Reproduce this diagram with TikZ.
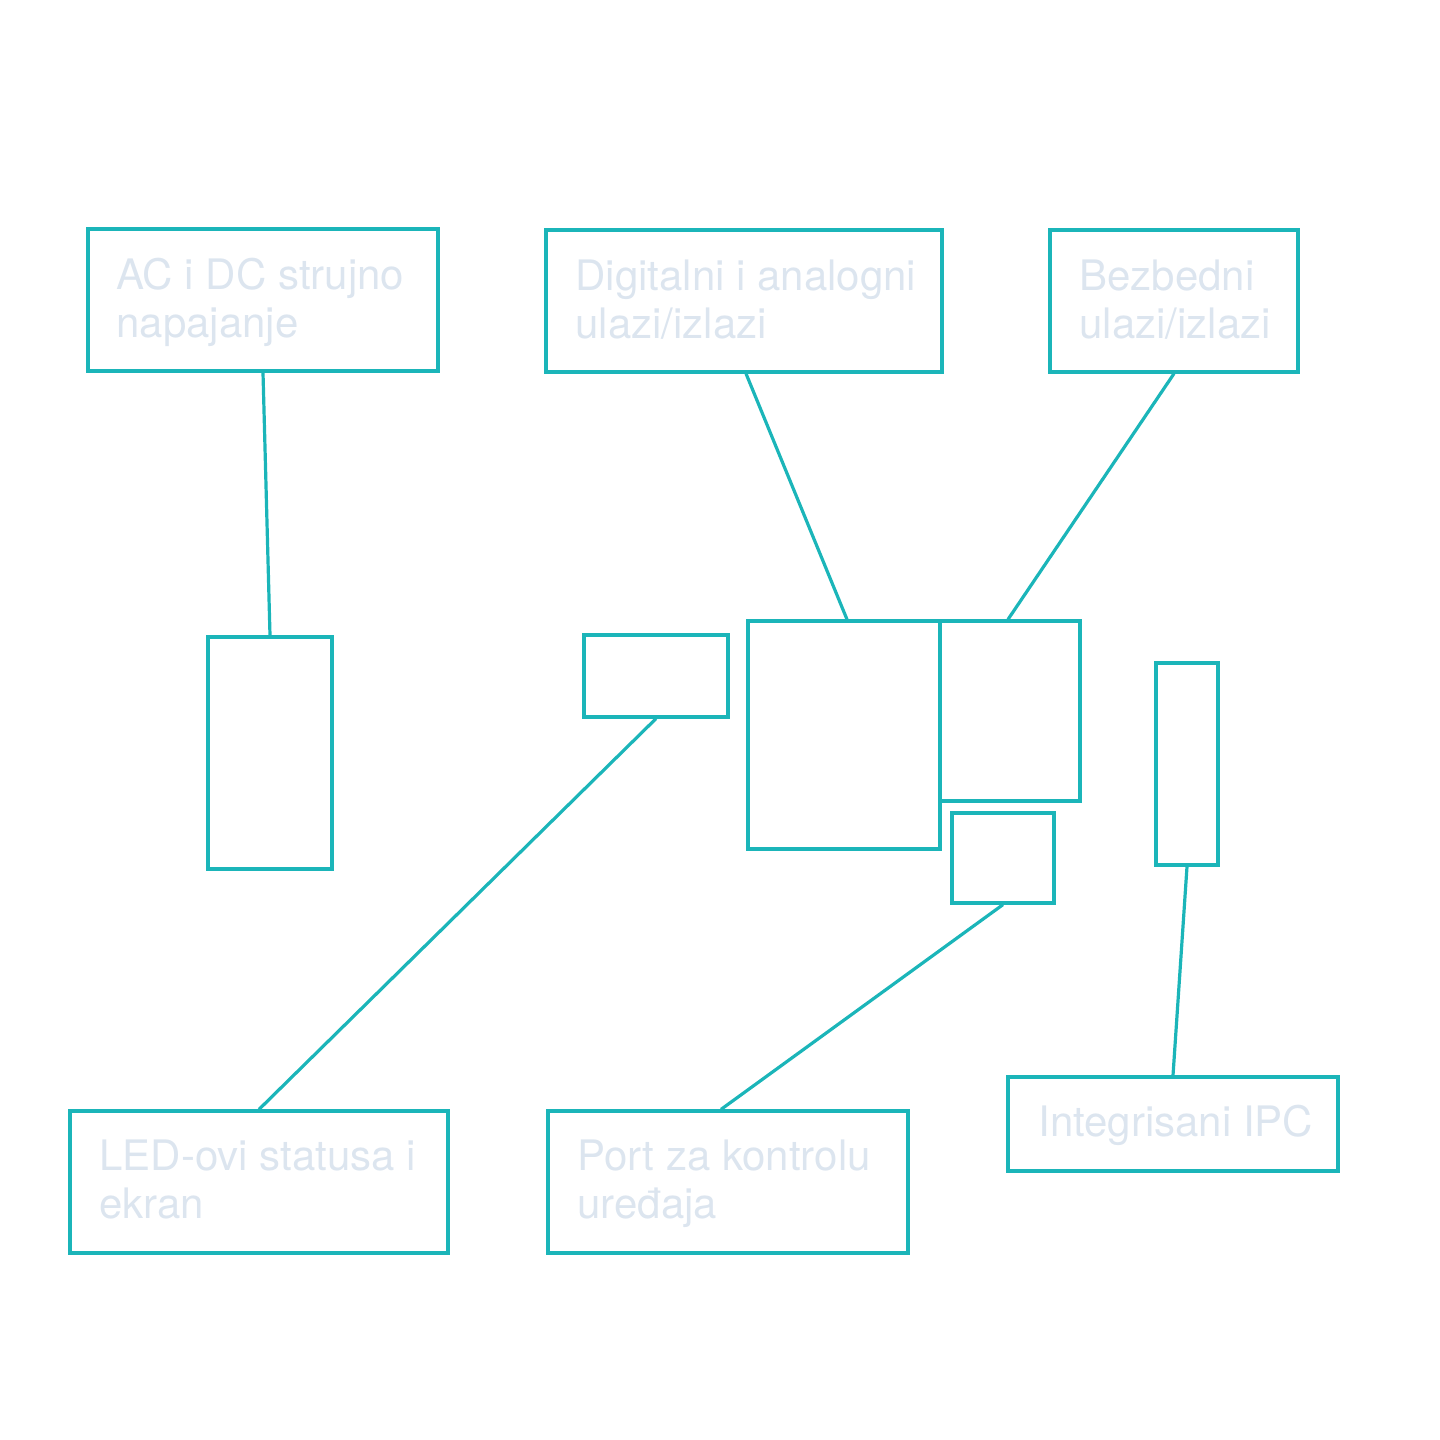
\documentclass[tikz,border=0pt]{standalone}
\usepackage{fontspec}
\setmainfont{TeX Gyre Heros}
\definecolor{teal1}{HTML}{1BB5B9}
\definecolor{txt}{HTML}{DCE5EF}
\begin{document}
\begin{tikzpicture}[x=0.5pt,y=-0.5pt,
  box/.style={draw=teal1,line width=1.6pt,rectangle,inner sep=0pt},
  lbl/.style={text=txt,anchor=base west,align=left,inner sep=0pt,font=\fontsize{21pt}{24pt}\selectfont},
  conn/.style={draw=teal1,line width=1.6pt}]
\useasboundingbox (0,0) rectangle (1440,1440);
\newcommand\bx[5]{\node[box,minimum width={(#4-#2)*0.5pt},minimum height={(#5-#3)*0.5pt}] (#1) at ({(#2+#4)/2},{(#3+#5)/2}) {};}
\bx{ac}{88}{229}{438}{371}
\bx{dig}{546}{230}{942}{372}
\bx{bez}{1050}{230}{1298}{372}
\bx{r4}{208}{637}{332}{869}
\bx{r5}{584}{635}{728}{717}
\bx{r6}{748}{621}{940}{849}
\bx{r7}{940}{621}{1080}{801}
\bx{r8}{952}{813}{1054}{903}
\bx{r9}{1156}{663}{1218}{865}
\bx{led}{70}{1111}{448}{1253}
\bx{port}{548}{1111}{908}{1253}
\bx{ipc}{1008}{1077}{1338}{1171}
\node[lbl] (tac) at (116,337) {AC i DC strujno\\napajanje};
\node[lbl] (tdig) at (575,338) {Digitalni i analogni\\ulazi/izlazi};
\node[lbl] (tbez) at (1079,338) {Bezbedni\\ulazi/izlazi};
\node[lbl] (tled) at (99,1218) {LED-ovi statusa i\\ekran};
\node[lbl] (tport) at (577,1218) {Port za kontrolu\\uređaja};
\node[lbl] (tipc) at (1038,1136) {Integrisani IPC};
\draw[conn] (ac.south) -- (r4.north);
\draw[conn] ([xshift=1pt]dig.south) -- ([xshift=1.5pt]r6.north);
\draw[conn] (bez.south) -- ([xshift=-1pt]r7.north);
\draw[conn] (r5.south) -- (led.north);
\draw[conn] (r8.south) -- ([xshift=-3.5pt]port.north);
\draw[conn] (r9.south) -- (ipc.north);
\end{tikzpicture}
\end{document}
